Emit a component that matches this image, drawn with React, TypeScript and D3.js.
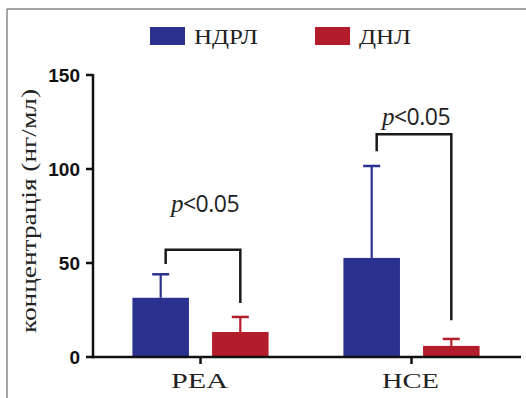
import React from "react";
import * as d3 from "d3";

const categories = ["PEA", "HCE"];
const seriesNames = ["НДРЛ", "ДНЛ"];
const meanNDRL = [31.5, 52.7];
const errNDRL = [44, 101.6];
const meanDNL = [13.3, 5.9];
const errDNL = [21.3, 9.6];
const yTicks = [0, 50, 100, 150];
const yLabel = "концентрація (нг/мл)";
// brackets per category: top value, left leg end, right leg end
const bracketTop = [57, 118.5];
const bracketLeftEnd = [49.5, 109.5];
const bracketRightEnd = [28.7, 19.5];
const pLabel = "p<0.05";

const colors = ["#2a318e", "#b31d2b"];

const serif = "'Liberation Serif', 'Times New Roman', serif";
const sansBold = "'Liberation Sans', Arial, sans-serif";
const sansP = "'Open Sans', 'Noto Sans', sans-serif";

export default function App() {
  const W = 526, H = 398;
  const y = d3.scaleLinear().domain([0, 150]).range([357, 75]);
  const x0 = d3.scaleBand().domain(categories).range([95, 517]);
  const x1 = d3.scaleBand().domain(seriesNames).range([0, x0.bandwidth()]).paddingInner(0.29).paddingOuter(0.47);
  const means = [meanNDRL, meanDNL];
  const errs = [errNDRL, errDNL];
  const axisColor = "#111";

  return (
    <svg width={W} height={H} style={{ position: "absolute", left: 0, top: 0, background: "#fff" }}>
      <rect x={0} y={0} width={W} height={H} fill="#fff" />
      <line x1={7} y1={9} x2={W} y2={9} stroke="#888" strokeWidth={1.5} />
      <line x1={7} y1={9} x2={7} y2={H} stroke="#888" strokeWidth={1.5} />

      {/* legend */}
      {seriesNames.map((s, i) => {
        const lx = i === 0 ? 150 : 315;
        return (
          <g key={s}>
            <rect x={lx} y={27} width={35} height={18} fill={colors[i]} />
            <text x={lx + 44} y={44} textLength={i === 0 ? 64 : 52} lengthAdjust="spacingAndGlyphs"
              style={{ fontFamily: serif, fontSize: 21, fill: "#222" }}>{s}</text>
          </g>
        );
      })}

      {/* bars */}
      {categories.map((c, ci) => (
        <g key={c}>
          {seriesNames.map((s, si) => {
            const bx = (x0(c) as number) + (x1(s) as number);
            const bw = x1.bandwidth();
            const cx = bx + bw / 2;
            const v = means[si][ci];
            const e = errs[si][ci];
            return (
              <g key={s}>
                <line x1={cx} x2={cx} y1={y(v)} y2={y(e)} stroke={colors[si]} strokeWidth={2.2} />
                <line x1={cx - 8.5} x2={cx + 8.5} y1={y(e)} y2={y(e)} stroke={colors[si]} strokeWidth={2.5} />
                <rect x={bx} y={y(v)} width={bw} height={y(0) - y(v)} fill={colors[si]} />
              </g>
            );
          })}
        </g>
      ))}

      {/* brackets */}
      {categories.map((c, ci) => {
        const lx = (x0(c) as number) + (x1(seriesNames[0]) as number) + x1.bandwidth() / 2 + 5;
        const rx = (x0(c) as number) + (x1(seriesNames[1]) as number) + x1.bandwidth() / 2;
        const ty = y(bracketTop[ci]);
        return (
          <g key={"b" + c}>
            <path d={`M${lx},${y(bracketLeftEnd[ci])}V${ty}H${rx}V${y(bracketRightEnd[ci])}`}
              fill="none" stroke="#1a1a1a" strokeWidth={2.5} />
            <text x={(lx + rx) / 2 + 2} y={ty - (ci === 0 ? 38 : 9)} textAnchor="middle"
              style={{ fontFamily: sansP, fontSize: 23, fill: "#222", letterSpacing: -0.5 }}>
              <tspan style={{ fontFamily: serif, fontStyle: "italic", fontSize: 25 }}>{pLabel.slice(0, 1)}</tspan>
              <tspan>{pLabel.slice(1)}</tspan>
            </text>
          </g>
        );
      })}

      {/* y axis */}
      <line x1={93} x2={93} y1={y(150) - 1} y2={y(0) + 1.2} stroke={axisColor} strokeWidth={2.5} />
      {yTicks.map((t) => (
        <g key={t}>
          <line x1={86} x2={93} y1={y(t)} y2={y(t)} stroke={axisColor} strokeWidth={2.5} />
          <text x={80} y={y(t) + 7} textAnchor="end"
            style={{ fontFamily: sansBold, fontWeight: "bold", fontSize: 19, fill: "#111" }}>{t}</text>
        </g>
      ))}
      {/* x axis */}
      <line x1={92} x2={521} y1={y(0)} y2={y(0)} stroke={axisColor} strokeWidth={2.5} />
      {categories.map((c) => {
        const cx = (x0(c) as number) + x0.bandwidth() / 2;
        return (
          <g key={"t" + c}>
            <line x1={cx} x2={cx} y1={y(0)} y2={y(0) + 7} stroke={axisColor} strokeWidth={2.5} />
            <text x={cx - 1} y={388} textAnchor="middle" textLength={57} lengthAdjust="spacingAndGlyphs"
              style={{ fontFamily: serif, fontSize: 22, fill: "#222" }}>{c}</text>
          </g>
        );
      })}

      {/* y label */}
      <text transform="translate(36,211) rotate(-90)" textAnchor="middle" textLength={244} lengthAdjust="spacingAndGlyphs"
        style={{ fontFamily: serif, fontSize: 21, fill: "#222" }}>{yLabel}</text>
    </svg>
  );
}
